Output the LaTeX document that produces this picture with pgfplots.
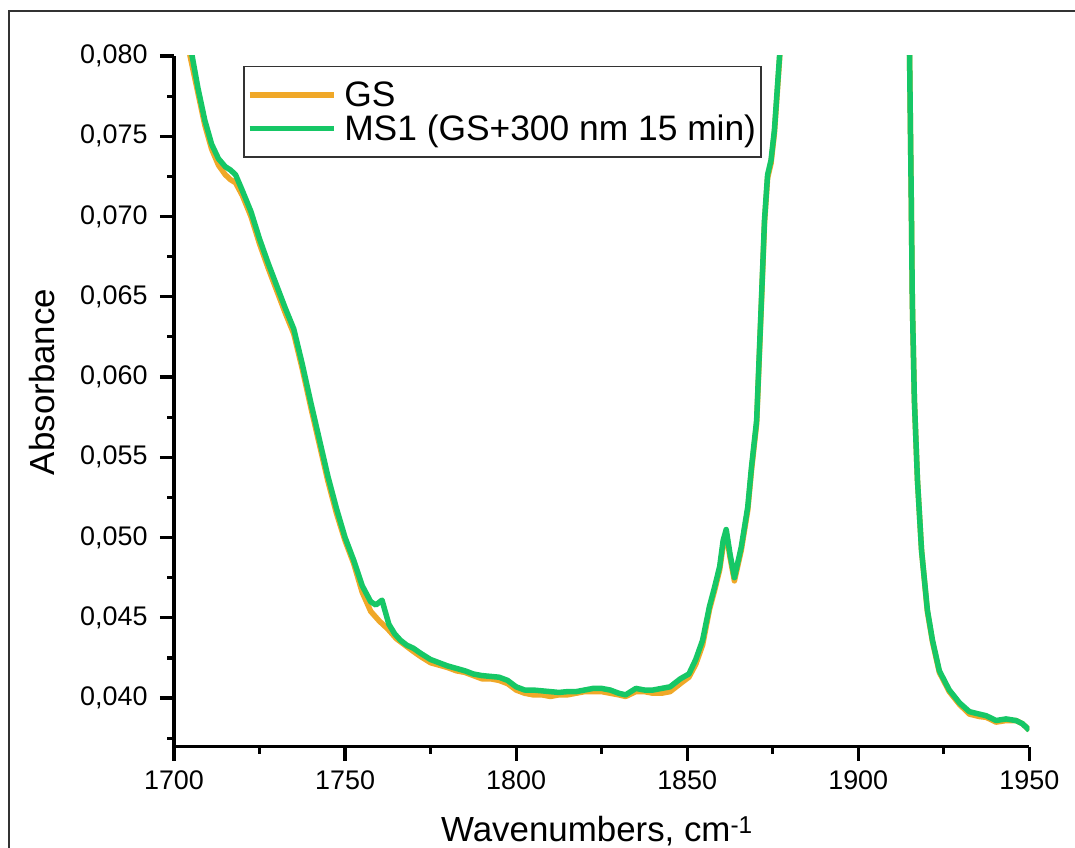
\documentclass[border=0pt]{standalone}
\usepackage{fontspec}
\setmainfont{Liberation Sans}
\usepackage{pgfplots}
\pgfplotsset{compat=1.18}
\definecolor{gsorange}{RGB}{240,168,40}
\definecolor{msgreen}{RGB}{22,199,102}
\begin{document}
\begin{tikzpicture}[x=1bp,y=1bp]
\useasboundingbox (0,0) rectangle (1075,848);
\draw[line width=1.6bp,black!80] (9,0) -- (9,837) -- (1075,837);
\begin{axis}[
  at={(174bp,101.3bp)}, anchor=south west,
  scale only axis, width=855.3bp, height=690.7bp,
  xmin=1700, xmax=1950, ymin=0.03697, ymax=0.080,
  scaled y ticks=false, scaled x ticks=false,
  axis x line*=bottom, axis y line*=left,
  x axis line style={-, line width=3.4bp, black},
  y axis line style={-, line width=3.4bp, black},
  tick align=outside,
  major tick length=14bp, minor tick length=7bp,
  major tick style={line width=3.2bp, black},
  minor tick style={line width=3.2bp, black},
  xtick={1700,1750,1800,1850,1900,1950},
  xticklabels={1700,1750,1800,1850,1900,1950},
  minor xtick={1725,1775,1825,1875,1925},
  ytick={0.040,0.045,0.050,0.055,0.060,0.065,0.070,0.075,0.080},
  yticklabels={{0,040},{0,045},{0,050},{0,055},{0,060},{0,065},{0,070},{0,075},{0,080}},
  minor ytick={0.0375,0.0425,0.0475,0.0525,0.0575,0.0625,0.0675,0.0725,0.0775},
  tick label style={font=\fontsize{27}{30}\selectfont},
  yticklabel style={xshift=-9bp},
  xticklabel style={yshift=-6bp},
  legend style={at={(0.0807,0.9855)}, anchor=north west, draw=black!80, line width=1.5bp,
    fill=white, font=\fontsize{35.5}{40}\selectfont, inner xsep=3bp, inner ysep=13bp,
    row sep=3bp, cells={anchor=west}},
  legend image code/.code={\draw[#1] (0bp,0bp) -- (84bp,0bp); \path (90bp,0bp);},
  legend cell align=left,
  clip=true,
]
\addplot[gsorange, line width=5.5bp, line join=round] coordinates {
(1703,0.0830) (1704.7,0.0800) (1707,0.0777) (1709,0.0757) (1711,0.0742) (1713,0.0732)
(1715,0.0726) (1716.5,0.0723) (1718,0.0721) (1720,0.0713) (1722.5,0.0700) (1725,0.0683)
(1727.5,0.0668) (1730,0.0654) (1732.5,0.0640) (1735,0.0627) (1737.5,0.0605) (1740,0.0581)
(1742.5,0.0558) (1745,0.0535) (1747.5,0.0515) (1750,0.0498) (1752.5,0.0484) (1755,0.0466)
(1757.5,0.0454) (1760,0.0448) (1762.5,0.0443) (1765,0.0437) (1767.5,0.0433) (1770,0.0429)
(1772,0.0426) (1775,0.0422) (1777.5,0.04205) (1780,0.0419) (1782.5,0.0417) (1785,0.0416)
(1787.5,0.0414) (1790,0.0412) (1792.5,0.0412) (1795,0.0411) (1797.5,0.0409) (1800,0.0405)
(1802.5,0.0403) (1805,0.0402) (1807.5,0.0402) (1810,0.0401) (1812.5,0.0402) (1815,0.0402)
(1817.5,0.0403) (1820,0.0404) (1822.5,0.0404) (1825,0.0404) (1827.5,0.0403) (1830,0.0402)
(1832,0.0401) (1835,0.0404) (1837.5,0.0404) (1840,0.0403) (1842.5,0.0403) (1845,0.0404)
(1848,0.0409) (1850.5,0.0413) (1852.5,0.0421) (1854.5,0.0433) (1856.5,0.0455) (1858,0.0467)
(1859.5,0.0480) (1860.5,0.0495) (1861.4,0.0503) (1862.5,0.0488) (1863.8,0.0473) (1865.8,0.0492)
(1867.7,0.0517) (1868.8,0.0542) (1870.3,0.0571) (1871.7,0.0646) (1872.6,0.0696) (1873.5,0.0724)
(1874.5,0.0733) (1875.5,0.0752) (1877,0.0798) (1879,0.0880) (1912,0.0880) (1915,0.0800)
(1915.5,0.0710) (1915.8,0.0648) (1916.4,0.0586) (1917.3,0.0536) (1918.5,0.0492) (1920.2,0.0454)
(1921.7,0.0435) (1923.7,0.0416) (1926.6,0.0404) (1929.6,0.0396) (1932.5,0.0390) (1935.4,0.03885)
(1937.4,0.0388) (1940.3,0.0385) (1943.2,0.0386) (1946.1,0.0386) (1948,0.0384) (1950,0.0380)
};
\addlegendentry{GS}
\addplot[msgreen, line width=5.5bp, line join=round] coordinates {
(1703,0.0830) (1705.3,0.0800) (1707,0.0780) (1709,0.0760) (1711,0.0745) (1713,0.0736)
(1715,0.0731) (1716.5,0.0729) (1718,0.0726) (1720,0.0716) (1722.5,0.0703) (1725,0.0686)
(1727.5,0.0671) (1730,0.0657) (1732.5,0.0643) (1735,0.0630) (1737.5,0.0608) (1740,0.0584)
(1742.5,0.0561) (1745,0.0538) (1747.5,0.0518) (1750,0.0500) (1752.5,0.0486) (1755,0.0470)
(1757.5,0.0460) (1759,0.0458) (1760.8,0.0461) (1762.8,0.0446) (1764.5,0.0440) (1766.2,0.0436)
(1768,0.0433) (1770,0.0431) (1772,0.0428) (1775,0.0424) (1777.5,0.0422) (1780,0.0420)
(1782.5,0.04185) (1785,0.0417) (1787.5,0.0415) (1790,0.0414) (1792.5,0.04135) (1795,0.0413)
(1797.5,0.0411) (1800,0.0407) (1802.5,0.0405) (1805,0.0405) (1807.5,0.04045) (1810,0.0404)
(1812.5,0.04035) (1815,0.0404) (1817.5,0.0404) (1820,0.0405) (1822.5,0.0406) (1825,0.0406)
(1827.5,0.0405) (1830,0.0403) (1832,0.0402) (1835,0.0406) (1837.5,0.0405) (1840,0.0405)
(1842.5,0.0406) (1845,0.0407) (1848,0.0412) (1850.5,0.0415) (1852.5,0.0424) (1854.5,0.0436)
(1856.5,0.0457) (1858,0.0469) (1859.5,0.0482) (1860.5,0.0498) (1861.4,0.0505) (1862.5,0.0490)
(1863.8,0.0475) (1865.8,0.0494) (1867.7,0.0519) (1868.8,0.0544) (1870.3,0.0573) (1871.7,0.0648)
(1872.6,0.0698) (1873.5,0.0726) (1874.5,0.0735) (1875.5,0.0754) (1877,0.0800) (1879,0.0880)
(1912,0.0880) (1915,0.0800) (1915.5,0.0710) (1915.8,0.0648) (1916.4,0.0586) (1917.3,0.0536)
(1918.5,0.0492) (1920.2,0.0455) (1921.7,0.0436) (1923.7,0.0417) (1926.6,0.0405) (1929.6,0.0397)
(1932.5,0.03915) (1935.4,0.0390) (1937.4,0.0389) (1940.3,0.0386) (1943.2,0.0387) (1946.1,0.0386)
(1948,0.0384) (1950,0.0380)
};
\addlegendentry{MS1 (GS+300 nm 15 min)}
\end{axis}
\node[rotate=90, font=\fontsize{35}{40}\selectfont, anchor=center] at (42,466) {Absorbance};
\node[font=\fontsize{35}{40}\selectfont, anchor=base] at (597,6) {Wavenumbers, cm\textsuperscript{-1}};
\end{tikzpicture}
\end{document}
